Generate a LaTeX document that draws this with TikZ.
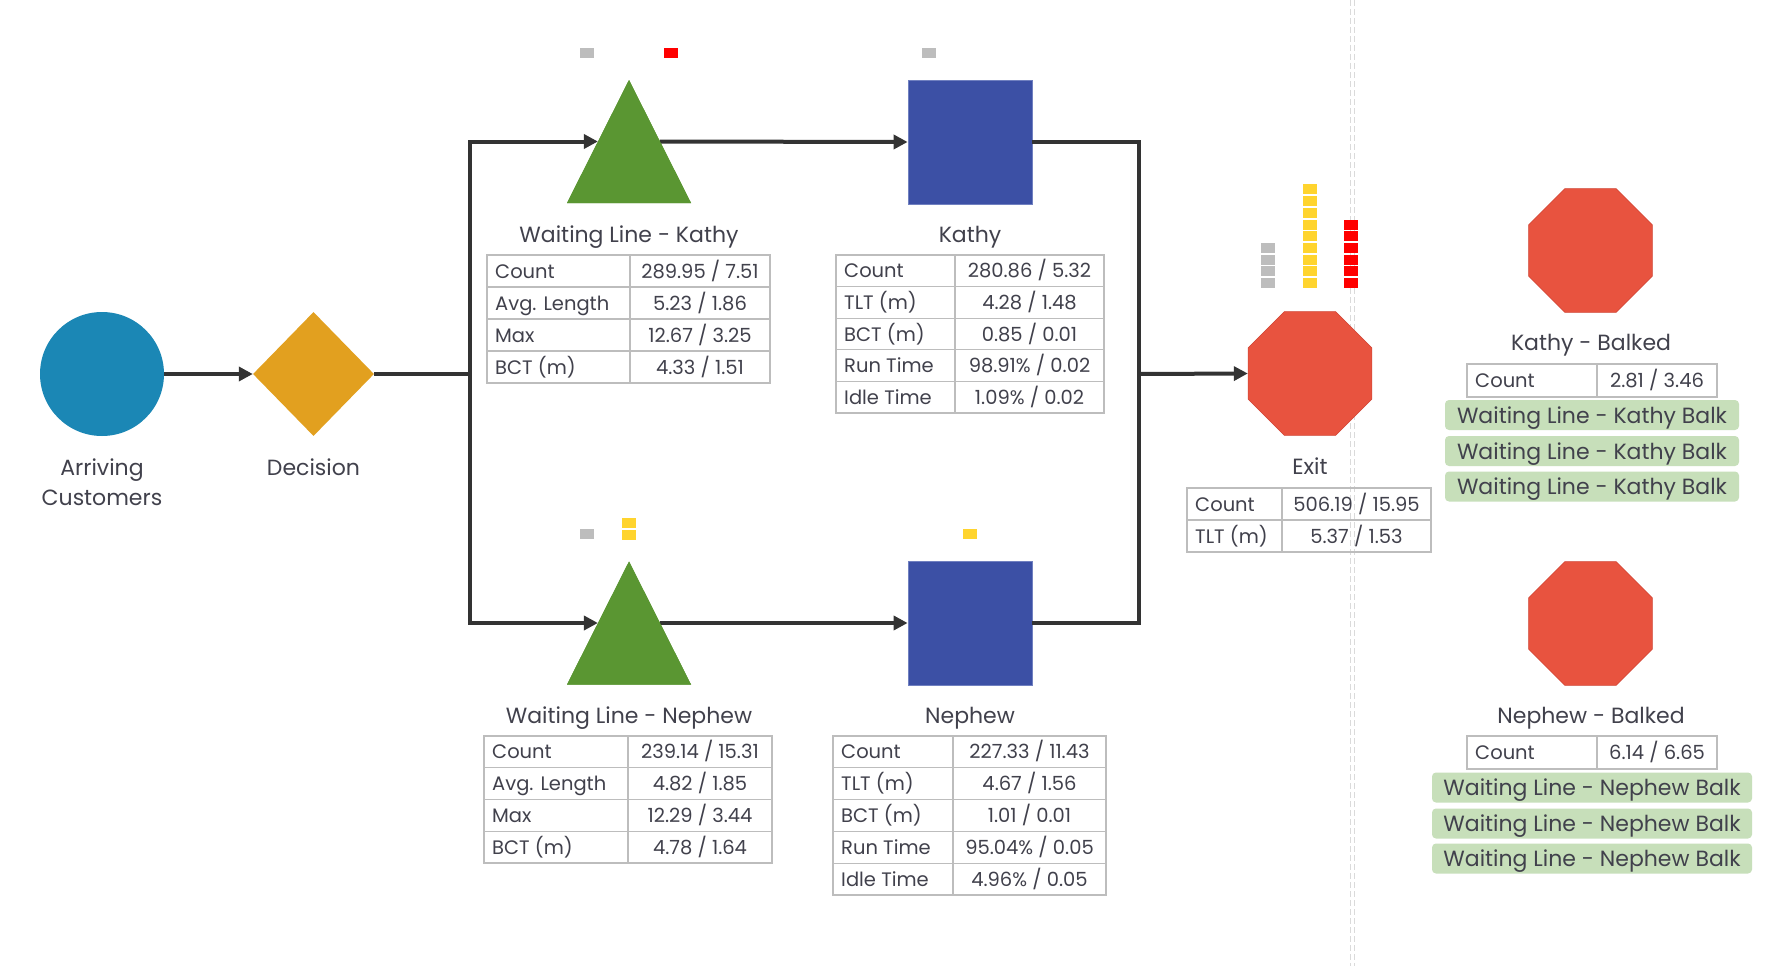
\documentclass[tikz,border=0pt]{standalone}
\usepackage{fontspec}
\setmainfont{Poppins}
\usetikzlibrary{arrows.meta,shapes.geometric,calc}
\definecolor{txt}{HTML}{41414C}
\definecolor{lineC}{HTML}{333333}
\definecolor{tabC}{HTML}{BDBDBD}
\definecolor{circC}{HTML}{1B87B5}
\definecolor{diaC}{HTML}{E2A01F}
\definecolor{triC}{HTML}{5A9632}
\definecolor{sqC}{HTML}{3C50A5}
\definecolor{sqB}{HTML}{7080C0}
\definecolor{octC}{HTML}{E8533F}
\definecolor{octB}{HTML}{D04535}
\definecolor{mkGrey}{HTML}{BDBDBD}
\definecolor{mkRed}{HTML}{FF0000}
\definecolor{mkYel}{HTML}{FFD42E}
\definecolor{balkC}{HTML}{C7DFBA}
\definecolor{dashC}{HTML}{DADADA}
\newcommand\trow[8]{%
  \draw[tabline] (#2,#5) rectangle (#4,#6) (#3,#5) -- (#3,#6);
  \node[cellL] (#1l) at ({#2+8},{(#5+#6)/2}) {#7};
  \node[cellR] (#1v) at ({(#3+#4)/2},{(#5+#6)/2}) {#8};
}
\begin{document}
\begin{tikzpicture}[x=1pt,y=-1pt,
  conn/.style={line width=4pt, draw=lineC},
  arr/.style={conn, -{Triangle[length=14pt,width=14pt]}},
  lbl/.style={text=txt, font=\fontsize{22}{30}\selectfont, inner sep=0, anchor=base},
  cellL/.style={text=txt, font=\fontsize{19.5}{22}\selectfont, anchor=west, inner sep=0, text height=16pt, text depth=2pt},
  cellR/.style={text=txt, font=\fontsize{19.5}{22}\selectfont, inner sep=0, text height=16pt, text depth=2pt},
  tabline/.style={draw=tabC, line width=1.3pt},
  mk/.style={fill=#1, minimum width=14pt, minimum height=10pt, inner sep=0, draw=none, rectangle},
  balk/.style={fill=balkC, rounded corners=4pt, text=txt, font=\fontsize{22}{26}\selectfont, minimum height=30pt, inner sep=0, text height=18pt, text depth=2pt},
  tri/.style={rectangle, minimum width=124pt, minimum height=123pt, inner sep=0,
    path picture={\fill[triC] (path picture bounding box.south west) -- (path picture bounding box.south east) -- (path picture bounding box.north) -- cycle;}},
  sq/.style={rectangle, fill=sqC, draw=sqB, line width=0.8pt, minimum size=124pt, inner sep=0},
  oct/.style={regular polygon, regular polygon sides=8, fill=octC, draw=octB, line width=0.6pt, minimum size=134pt, inner sep=0}
]
\useasboundingbox (0,0) rectangle (1790,966);
\fill[white] (0,0) rectangle (1790,966);

% separator
\draw[dashC, line width=0.9pt, dash pattern=on 6pt off 3pt] (1350,0) -- (1350,966);
\draw[dashC, line width=0.9pt, dash pattern=on 6pt off 3pt] (1354.5,0) -- (1354.5,966);

% main nodes
\node[circle, fill=circC, minimum size=124pt, inner sep=0] (arr) at (102,374) {};
\node[diamond, fill=diaC, minimum width=121pt, minimum height=124pt, inner sep=0] (dec) at (313.5,374) {};
\node[tri] (wlk) at (629,141.5) {};
\node[tri] (wln) at (629,623) {};
\node[sq] (kat) at (970,142) {};
\node[sq] (nep) at (970,623) {};
\node[oct] (exit) at (1310,373.5) {};
\node[oct] (kb) at (1590.5,250.5) {};
\node[oct] (nb) at (1590.5,623.5) {};

% connectors
\coordinate (jl) at (470,374);
\coordinate (jr) at (1139,374);
\coordinate (wlkin) at ($(wlk.west)!0.25!(wlk.east)$);
\coordinate (wlkout) at ($(wlk.west)!0.75!(wlk.east)$);
\coordinate (wlnin) at ($(wln.west)!0.25!(wln.east)$);
\coordinate (wlnout) at ($(wln.west)!0.75!(wln.east)$);
\draw[arr] (arr.east) -- (dec.west);
\draw[conn] (dec.east) -- (jl);
\draw[arr] (jl) |- (wlkin);
\draw[arr] (jl) |- (wlnin);
\draw[arr] (wlkout) -- (kat.west);
\draw[arr] (wlnout) -- (nep.west);
\draw[conn] (kat.east) -| (jr);
\draw[conn] (nep.east) -| (jr);
\draw[arr] (jr) -- (exit.west);
\node[tri] at (629,141.5) {};
\node[tri] at (629,623) {};

% queue markers
\node[mk=mkGrey] (q1) at (587,53) {};
\node[mk=mkRed] (q2) at (670.5,53) {};
\node[mk=mkGrey] (q3) at (929,53) {};
\node[mk=mkGrey] (q4) at (587,534) {};
\node[mk=mkYel] (q5) at (629,523) {};
\node[mk=mkYel] (q6) at (629,534.5) {};
\node[mk=mkYel] (q7) at (970,534) {};
\foreach \k in {0,...,3} \node[mk=mkGrey] (qg\k) at (1268,{283-11.7*\k}) {};
\foreach \k in {0,...,8} \node[mk=mkYel] (qy\k) at (1310,{283-11.7*\k}) {};
\foreach \k in {0,...,5} \node[mk=mkRed] (qr\k) at (1351,{283-11.7*\k}) {};

% labels
\node[lbl, align=center] (larr) at (102,505) {Arriving\\Customers};
\node[lbl] (ldec) at (313.5,475) {Decision};
\node[lbl] (lwlk) at (629,242) {Waiting Line - Kathy};
\node[lbl] (lkat) at (970,242) {Kathy};
\node[lbl] (lwln) at (629,723) {Waiting Line - Nephew};
\node[lbl] (lnep) at (970,723) {Nephew};
\node[lbl] (lexit) at (1310,474) {Exit};
\node[lbl] (lkb) at (1591,350) {Kathy - Balked};
\node[lbl] (lnb) at (1591,723) {Nephew - Balked};

% tables: Waiting Line - Kathy
\trow{a1}{487}{630}{770}{255}{287}{Count}{289.95 / 7.51}
\trow{a2}{487}{630}{770}{287}{319}{Avg. Length}{5.23 / 1.86}
\trow{a3}{487}{630}{770}{319}{351}{Max}{12.67 / 3.25}
\trow{a4}{487}{630}{770}{351}{383}{BCT (m)}{4.33 / 1.51}
% Kathy
\trow{b1}{836}{955}{1104}{255}{286.6}{Count}{280.86 / 5.32}
\trow{b2}{836}{955}{1104}{286.6}{318.2}{TLT (m)}{4.28 / 1.48}
\trow{b3}{836}{955}{1104}{318.2}{349.8}{BCT (m)}{0.85 / 0.01}
\trow{b4}{836}{955}{1104}{349.8}{381.4}{Run Time}{98.91\% / 0.02}
\trow{b5}{836}{955}{1104}{381.4}{413}{Idle Time}{1.09\% / 0.02}
% Exit
\trow{c1}{1187}{1282}{1431}{488}{520}{Count}{506.19 / 15.95}
\trow{c2}{1187}{1282}{1431}{520}{552}{TLT (m)}{5.37 / 1.53}
% Kathy - Balked
\trow{d1}{1467}{1597}{1717}{364}{397}{Count}{2.81 / 3.46}
% Waiting Line - Nephew
\trow{e1}{484}{628}{772}{736}{767.75}{Count}{239.14 / 15.31}
\trow{e2}{484}{628}{772}{767.75}{799.5}{Avg. Length}{4.82 / 1.85}
\trow{e3}{484}{628}{772}{799.5}{831.25}{Max}{12.29 / 3.44}
\trow{e4}{484}{628}{772}{831.25}{863}{BCT (m)}{4.78 / 1.64}
% Nephew
\trow{f1}{833}{953}{1106}{736}{767.8}{Count}{227.33 / 11.43}
\trow{f2}{833}{953}{1106}{767.8}{799.6}{TLT (m)}{4.67 / 1.56}
\trow{f3}{833}{953}{1106}{799.6}{831.4}{BCT (m)}{1.01 / 0.01}
\trow{f4}{833}{953}{1106}{831.4}{863.2}{Run Time}{95.04\% / 0.05}
\trow{f5}{833}{953}{1106}{863.2}{895}{Idle Time}{4.96\% / 0.05}
% Nephew - Balked
\trow{g1}{1467}{1597}{1717}{736}{769}{Count}{6.14 / 6.65}

% balk tags
\node[balk, minimum width=294pt] (kb1) at (1592,415) {Waiting Line - Kathy Balk};
\node[balk, minimum width=294pt] (kb2) at (1592,451) {Waiting Line - Kathy Balk};
\node[balk, minimum width=294pt] (kb3) at (1592,486.5) {Waiting Line - Kathy Balk};
\node[balk, minimum width=320pt] (nb1) at (1592,787.5) {Waiting Line - Nephew Balk};
\node[balk, minimum width=320pt] (nb2) at (1592,823.5) {Waiting Line - Nephew Balk};
\node[balk, minimum width=320pt] (nb3) at (1592,858.5) {Waiting Line - Nephew Balk};
\end{tikzpicture}
\end{document}
